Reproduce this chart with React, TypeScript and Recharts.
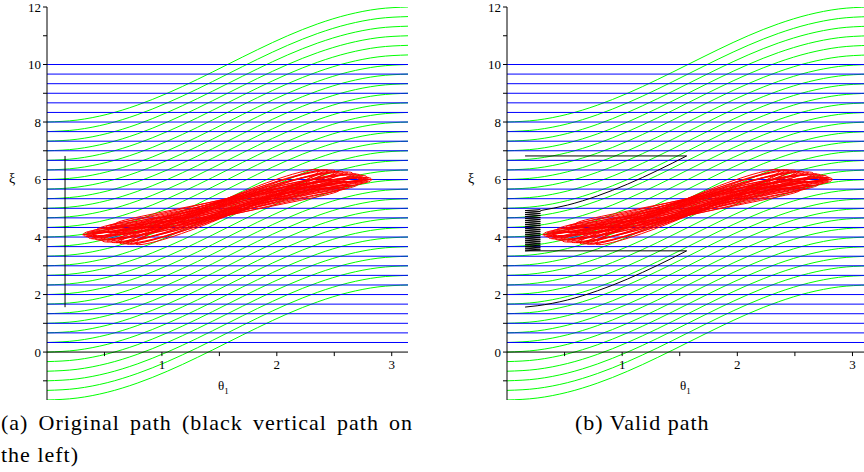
import React from "react";
import { LineChart, Line, XAxis, YAxis, ReferenceDot } from "recharts";

// green family: start value at θ=0, plus a shared rise profile
const greenStarts = [
  -1.667, -1.333, -1, -0.667, -0.333, 0, 0.333, 0.667, 1, 1.333, 1.667, 2, 2.333, 2.667, 3,
  3.333, 3.667, 4, 4.333, 4.667, 5, 5.333, 5.667, 6, 6.333, 6.667, 7, 7.333, 7.667, 8,
];
const riseTheta = [0, 0.262, 0.524, 0.785, 1.047, 1.309, 1.571, 1.833, 2.094, 2.356, 2.618, 2.88, 3.1416];
const riseXi = [0, 0.068, 0.268, 0.586, 1.0, 1.482, 2.0, 2.518, 3.0, 3.414, 3.732, 3.932, 4.0];

// blue horizontal levels
const blueLevels = [
  0.333, 0.667, 1, 1.333, 1.667, 2, 2.333, 2.667, 3, 3.333, 3.667, 4, 4.333, 4.667, 5,
  5.333, 5.667, 6, 6.333, 6.667, 7, 7.333, 7.667, 8, 8.333, 8.667, 9, 9.333, 9.667, 10,
];

// red loops around a bent mid line: half length, end tilt, half thickness
const redCenter = [1.57, 5.045];
const redBend = 0.99;
const redA = [
  0.98, 1.02, 1.06, 1.1, 1.14, 1.18, 1.22, 1.25, 1.26, 1.25, 1.23, 1.21,
  1.18, 1.15, 1.12, 1.09, 1.05, 1.01, 0.97, 0.94, 0.91, 0.88, 0.84, 0.8,
];
const redE = [
  0.22, 0.19, 0.16, 0.13, 0.1, 0.07, 0.04, 0.01, -0.02, -0.05, -0.09, -0.13,
  -0.17, -0.21, -0.25, -0.29, -0.33, -0.37, -0.41, -0.44, -0.47, -0.5, -0.53, -0.56,
];
const redB = [
  0.28, 0.1, 0.22, 0.04, 0.3, 0.16, 0.08, 0.25, 0.02, 0.19, 0.12, 0.28,
  0.06, 0.22, 0.14, 0.3, 0.09, 0.24, 0.17, 0.3, 0.12, 0.27, 0.2, 0.3,
];

// black paths
const origPath = [{ x: 0.157, y: 1.56 }, { x: 0.157, y: 6.82 }];
const validTop = [{ x: 0.157, y: 6.82 }, { x: 1.56, y: 6.82 }];
const validUpper = [
  { x: 0.29, y: 4.92 }, { x: 0.524, y: 5.11 }, { x: 0.785, y: 5.43 },
  { x: 1.047, y: 5.84 }, { x: 1.309, y: 6.32 }, { x: 1.56, y: 6.82 },
];
const validLowerFlat = [{ x: 0.157, y: 3.52 }, { x: 1.56, y: 3.52 }];
const validLower = [
  { x: 0.157, y: 1.565 }, { x: 0.262, y: 1.61 }, { x: 0.524, y: 1.81 }, { x: 0.785, y: 2.13 },
  { x: 1.047, y: 2.54 }, { x: 1.309, y: 3.02 }, { x: 1.56, y: 3.52 },
];
const hatchLevels = [
  3.52, 3.59, 3.66, 3.73, 3.8, 3.87, 3.94, 4.01, 4.08, 4.15, 4.22,
  4.29, 4.36, 4.43, 4.5, 4.57, 4.64, 4.71, 4.78, 4.85, 4.92,
];

const yTicks = [-1, 0, 1, 2, 3, 4, 5, 6, 7, 8, 9, 10, 11, 12];
const xTicks = [0.5, 1, 1.5, 2, 2.5, 3];
const xLabels = [1, 2, 3];

const SERIF = "'Liberation Serif', 'Times New Roman', serif";
const PI = 3.1416;

const greenData = greenStarts.map((s) => riseTheta.map((x, i) => ({ x, y: s + riseXi[i] })));

const redData = redA.map((a, k) => {
  const pts: { x: number; y: number }[] = [];
  for (let d = 0; d <= 360; d += 5) {
    const t = (d * Math.PI) / 180;
    const x = redCenter[0] - a * Math.cos(t);
    pts.push({
      x,
      y: redCenter[1] - redBend * Math.cos(x) + redE[k] * Math.cos(t) + redB[k] * Math.sin(t),
    });
  }
  return pts;
});

const hatchData = hatchLevels.flatMap((l) => [
  { x: 0.157, y: l },
  { x: 0.29, y: l + 0.035 },
]);

const seg = (data: { x: number; y: number }[], stroke: string, key: string, type: any = "linear") => (
  <Line
    key={key}
    data={data}
    dataKey="y"
    type={type}
    stroke={stroke}
    strokeWidth={1}
    dot={false}
    activeDot={false}
    isAnimationActive={false}
  />
);

function Panel({ maxX, width, right, valid }: { maxX: number; width: number; right: number; valid: boolean }) {
  return (
    <LineChart width={width} height={410} margin={{ top: 7, right, bottom: 10, left: 0 }}>
      <XAxis type="number" dataKey="x" domain={[0, maxX]} allowDataOverflow hide />
      <YAxis
        type="number"
        domain={[-1.667, 12]}
        allowDataOverflow
        ticks={yTicks}
        interval={0}
        width={47}
        tickSize={4}
        tickFormatter={(v: number) => (v >= 0 && v % 2 === 0 ? String(v) : "")}
        axisLine={{ stroke: "#000" }}
        tickLine={{ stroke: "#000" }}
        tick={{ fill: "#000", fontSize: 13, fontFamily: SERIF }}
      />
      {greenData.map((d, i) => seg(d, "#00ff00", "g" + i, "monotone"))}
      {blueLevels.map((v, i) => seg([{ x: 0, y: v }, { x: PI, y: v }], "#0000ff", "b" + i))}
      {redData.map((d, i) => seg(d, "#ff0000", "r" + i))}
      {valid
        ? [
            seg(validTop, "#000", "k1"),
            seg(validUpper, "#000", "k2", "monotone"),
            seg(validLowerFlat, "#000", "k3"),
            seg(validLower, "#000", "k4", "monotone"),
            seg(hatchData, "#000", "k5"),
          ]
        : seg(origPath, "#000", "k0")}
      {seg([{ x: 0, y: 0 }, { x: PI, y: 0 }], "#000", "ax")}
      {xTicks.map((v) => seg([{ x: v, y: 0 }, { x: v, y: -0.14 }], "#000", "t" + v))}
      {xLabels.map((v) => (
        <ReferenceDot
          key={"l" + v}
          x={v}
          y={0}
          r={0}
          fill="none"
          stroke="none"
          label={{ value: String(v), position: "bottom", offset: 8, fill: "#000", fontSize: 13, fontFamily: SERIF }}
        />
      ))}
    </LineChart>
  );
}

export default function App() {
  const axisTitle: React.CSSProperties = { position: "absolute", fontFamily: SERIF, fontSize: 14, color: "#000", lineHeight: 1 };
  const caption: React.CSSProperties = { position: "absolute", fontFamily: SERIF, fontSize: 22, letterSpacing: 1, color: "#000", lineHeight: 1, whiteSpace: "nowrap" };
  return (
    <div style={{ position: "absolute", left: 0, top: 0, width: 864, height: 472, background: "#fff", overflow: "hidden" }}>
      <div style={{ position: "absolute", left: 0, top: 0 }}>
        <Panel maxX={PI} width={420} right={12} valid={false} />
      </div>
      <div style={{ position: "absolute", left: 460, top: 0 }}>
        <Panel maxX={3.1} width={404} right={0} valid={true} />
      </div>
      <div style={{ ...axisTitle, left: 9, top: 172 }}>ξ</div>
      <div style={{ ...axisTitle, left: 468, top: 172 }}>ξ</div>
      <div style={{ ...axisTitle, left: 218, top: 379, fontSize: 13 }}>
        θ<sub style={{ fontSize: 9 }}>1</sub>
      </div>
      <div style={{ ...axisTitle, left: 680, top: 379, fontSize: 13 }}>
        θ<sub style={{ fontSize: 9 }}>1</sub>
      </div>
      <div style={{ ...caption, left: 1, top: 412, width: 412, textAlign: "justify", textAlignLast: "justify" }}>
        (a) Original path (black vertical path on
      </div>
      <div style={{ ...caption, left: 1, top: 444 }}>the left)</div>
      <div style={{ ...caption, left: 575, top: 412 }}>(b) Valid path</div>
    </div>
  );
}
